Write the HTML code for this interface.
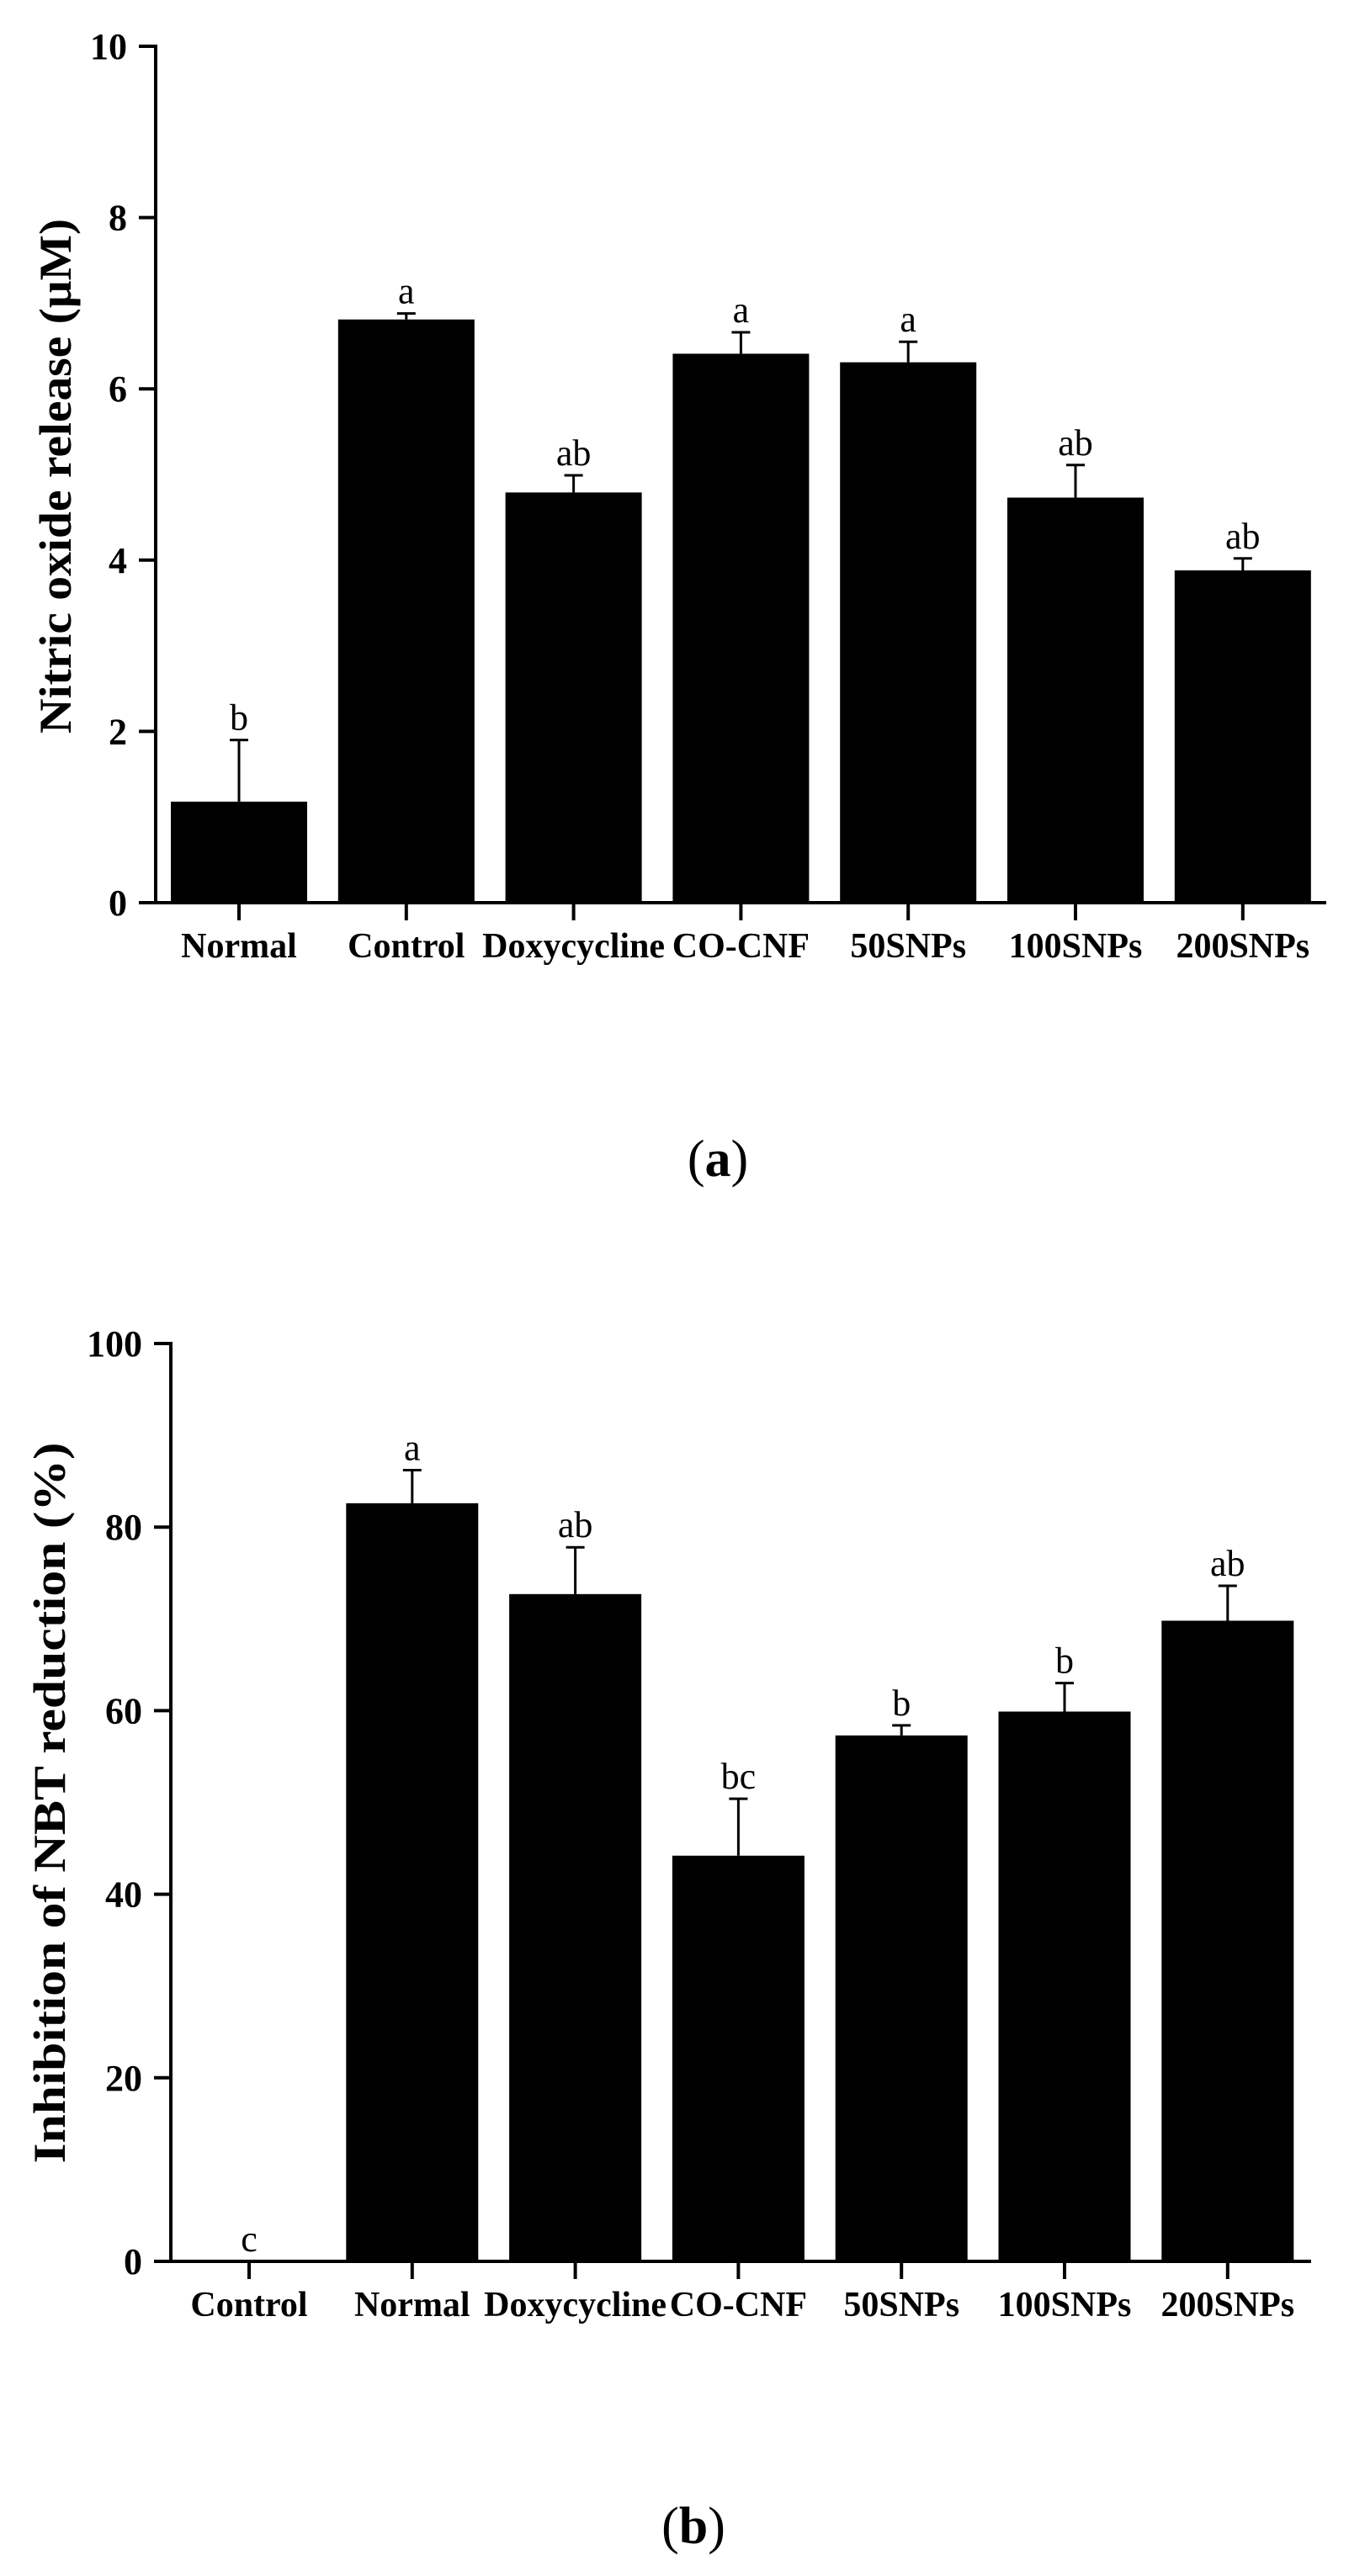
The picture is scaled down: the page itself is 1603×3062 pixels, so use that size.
<!DOCTYPE html>
<html><head><meta charset="utf-8"><style>
html,body{margin:0;padding:0;background:#fff;}
svg{display:block;font-family:"Liberation Serif",serif;}
</style></head><body>
<svg id="fig" width="1603" height="3062" viewBox="0 0 1603 3062">
<g id="chartA"></g>
<g id="chartB"></g>
<text x="853" y="1398" font-size="62" text-anchor="middle">(<tspan font-weight="bold">a</tspan>)</text>
<text x="824" y="3023" font-size="62" text-anchor="middle">(<tspan font-weight="bold">b</tspan>)</text>
</svg>
<script>
const catsA = ["Normal","Control","Doxycycline","CO-CNF","50SNPs","100SNPs","200SNPs"];
const valsA = [1.18,6.81,4.79,6.41,6.31,4.73,3.88];
const errsA = [0.72,0.07,0.20,0.25,0.24,0.38,0.14];
const sigA = ["b","a","ab","a","a","ab","ab"];
const ticksA = [0,2,4,6,8,10];

const catsB = ["Control","Normal","Doxycycline","CO-CNF","50SNPs","100SNPs","200SNPs"];
const valsB = [0,82.6,72.7,44.2,57.3,59.9,69.8];
const errsB = [0,3.6,5.1,6.2,1.1,3.1,3.8];
const sigB = ["c","a","ab","bc","b","b","ab"];
const ticksB = [0,20,40,60,80,100];

const NS="http://www.w3.org/2000/svg";
function mk(parent,tag,attrs){const e=document.createElementNS(NS,tag);for(const k in attrs)e.setAttribute(k,attrs[k]);parent.appendChild(e);return e;}

function drawChart(g,cfg,cats,vals,errs,sig,ticks){
  const yScale=v=>cfg.y0-(v-cfg.min)/(cfg.max-cfg.min)*(cfg.y0-cfg.yTop);
  const xCenter=i=>cfg.firstCenter+i*cfg.pitch;
  // bars
  cats.forEach((c,i)=>{
    const cx=xCenter(i), top=yScale(vals[i]);
    if(vals[i]>0){
      const r=mk(g,'rect',{x:cx-cfg.barW/2,y:top,width:cfg.barW,height:cfg.y0-top,fill:'#000'});
      
      
      const et=yScale(vals[i]+errs[i]);
      const el=mk(g,'path',{d:`M${cx},${top} V${et} M${cx-cfg.capW/2},${et} H${cx+cfg.capW/2}`,stroke:'#000','stroke-width':3,fill:'none'});
      
      
    }
    const ly=(vals[i]>0?yScale(vals[i]+errs[i]):cfg.y0)-12;
    const t=mk(g,'text',{x:cx,y:ly,'font-size':44,'text-anchor':'middle'});
    t.textContent=sig[i];
    
    
    const tk=mk(g,'line',{x1:cx,x2:cx,y1:cfg.y0,y2:cfg.y0+21,stroke:'#000','stroke-width':4});
    
    
    const xl=mk(g,'text',{x:cx,y:cfg.y0+65,'font-size':42,'font-weight':'bold','text-anchor':'middle'});
    xl.textContent=c;
    
    
  });
  // axes
  const ya=mk(g,'line',{x1:cfg.ax,x2:cfg.ax,y1:cfg.yTop-2,y2:cfg.y0+2,stroke:'#000','stroke-width':4});
  
  
  const xa=mk(g,'line',{x1:cfg.ax-2,x2:cfg.xEnd,y1:cfg.y0,y2:cfg.y0,stroke:'#000','stroke-width':4});
  
  
  ticks.forEach(v=>{
    const y=yScale(v);
    const tk=mk(g,'line',{x1:cfg.ax-20,x2:cfg.ax,y1:y,y2:y,stroke:'#000','stroke-width':4});
    
    
    const tl=mk(g,'text',{x:cfg.ax-34,y:y+15,'font-size':44,'font-weight':'bold','text-anchor':'end'});
    tl.textContent=v;
    
    
  });
  const tt=mk(g,'text',{x:0,y:0,'font-size':54,'font-weight':'bold','text-anchor':'middle',transform:`translate(${cfg.titleX},${cfg.titleY}) rotate(-90)`,textLength:cfg.titleLen,lengthAdjust:'spacingAndGlyphs'});
  tt.textContent=cfg.title;
  
  
}

drawChart(document.getElementById('chartA'),
  {ax:185,xEnd:1576,yTop:55,y0:1073,min:0,max:10,firstCenter:284,pitch:198.8,barW:162,capW:22,
   title:"Nitric oxide release (\u03BCM)",titleX:84,titleY:566,titleLen:612},
  catsA,valsA,errsA,sigA,ticksA);
drawChart(document.getElementById('chartB'),
  {ax:203,xEnd:1558,yTop:1597,y0:2688,min:0,max:100,firstCenter:296,pitch:193.8,barW:157,capW:22,
   title:"Inhibition of NBT reduction (%)",titleX:77,titleY:2143,titleLen:857},
  catsB,valsB,errsB,sigB,ticksB);
</script>
</body></html>
